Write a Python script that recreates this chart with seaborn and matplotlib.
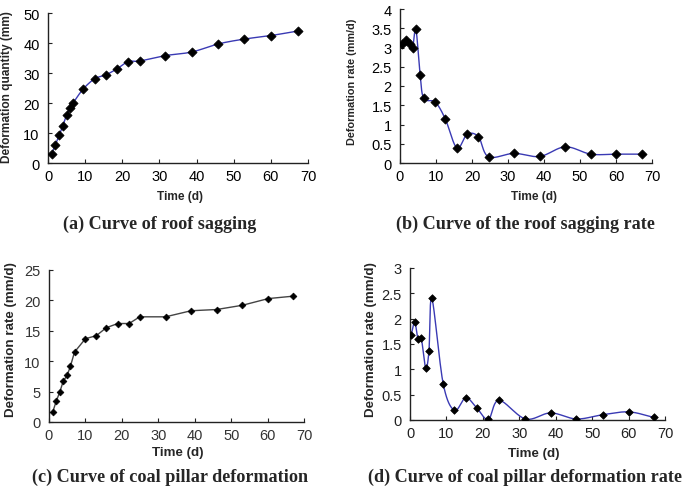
import numpy as np
import pandas as pd
import matplotlib
matplotlib.use("Agg")
import matplotlib.pyplot as plt
import seaborn as sns

sns.set_theme(style="ticks")
plt.rcParams['font.family'] = ['Liberation Sans', 'DejaVu Sans']

# ---- data ----
a_time = [1, 2, 3, 4, 5, 6, 6.7, 9.5, 12.6, 15.6, 18.6, 21.6, 24.7, 31.6, 38.7, 45.9, 52.8, 60.1, 67.3]
a_value = [3.0, 6.1, 9.2, 12.4, 16.0, 18.4, 19.9, 24.7, 28.1, 29.4, 31.4, 33.8, 34.0, 35.8, 37.0, 39.7, 41.3, 42.5, 44.0]

b_time = [0.5, 1.6, 2.7, 3.5, 4.4, 5.6, 6.6, 9.8, 12.6, 15.8, 18.7, 21.8, 24.6, 31.7, 38.8, 45.9, 53.0, 60.0, 67.1]
b_value = [3.09, 3.20, 3.08, 2.98, 3.48, 2.29, 1.68, 1.58, 1.14, 0.39, 0.75, 0.68, 0.16, 0.25, 0.17, 0.42, 0.23, 0.23, 0.23]

c_time = [1, 2, 3, 3.9, 5, 5.9, 7, 10, 13, 15.7, 18.9, 22, 24.9, 32, 39, 46, 53.1, 60.2, 67.1]
c_value = [1.6, 3.45, 5.0, 6.7, 7.7, 9.2, 11.5, 13.7, 14.2, 15.5, 16.2, 16.2, 17.3, 17.3, 18.3, 18.5, 19.2, 20.3, 20.7]

d_time = [0.3, 1.3, 2.2, 3.1, 4.3, 5.2, 6.0, 9.1, 12.2, 15.3, 18.3, 21.5, 24.4, 31.7, 38.6, 45.7, 52.9, 60.1, 67.0]
d_value = [1.67, 1.93, 1.60, 1.61, 1.03, 1.36, 2.40, 0.72, 0.19, 0.44, 0.24, 0.01, 0.39, 0.02, 0.14, 0.02, 0.105, 0.16, 0.05]

panel_titles = ["(a) Curve of roof sagging", "(b) Curve of the roof sagging rate",
                "(c) Curve of coal pillar deformation", "(d) Curve of coal pillar deformation rate"]
y_labels = ["Deformation quantity (mm)", "Deformation rate (mm/d)",
            "Deformation rate (mm/d)", "Deformation rate (mm/d)"]
x_label = "Time (d)"


def smooth(x, y, n=20):
    """Catmull-Rom (Excel-like) smoothing through the data points."""
    x = np.asarray(x, float)
    y = np.asarray(y, float)
    px = np.concatenate([[2 * x[0] - x[1]], x, [2 * x[-1] - x[-2]]])
    py = np.concatenate([[2 * y[0] - y[1]], y, [2 * y[-1] - y[-2]]])
    xs, ys = [], []
    t = np.linspace(0, 1, n, endpoint=False)
    for i in range(1, len(px) - 2):
        for P, out in ((px, xs), (py, ys)):
            p0, p1, p2, p3 = P[i - 1], P[i], P[i + 1], P[i + 2]
            out.extend(0.5 * ((2 * p1) + (-p0 + p2) * t + (2 * p0 - 5 * p1 + 4 * p2 - p3) * t ** 2
                              + (-p0 + 3 * p1 - 3 * p2 + p3) * t ** 3))
    xs.append(x[-1]); ys.append(y[-1])
    return np.array(xs), np.array(ys)


W, H = 685, 489
fig = plt.figure(figsize=(W / 100, H / 100), dpi=100)


def add_ax(l, r, t, b):
    return fig.add_axes([l / W, (H - b) / H, (r - l) / W, (b - t) / H])


BLUE = '#3a3ab4'
specs = [
    (a_time, a_value, (48, 308, 14, 164), 50, [0, 10, 20, 30, 40, 50], True, BLUE, 22, 'black'),
    (b_time, b_value, (400, 652, 10, 164), 4, [0, 0.5, 1, 1.5, 2, 2.5, 3, 3.5, 4], True, BLUE, 22, 'black'),
    (c_time, c_value, (49, 304, 271, 423), 25, [0, 5, 10, 15, 20, 25], False, '#444444', 12, '#333333'),
    (d_time, d_value, (410, 665, 269, 421), 3, [0, 0.5, 1, 1.5, 2, 2.5, 3], True, BLUE, 15, '#222222'),
]

for i, (xt, yv, rect, ymax, yticks, sm, lc, ms, tc) in enumerate(specs):
    ax = add_ax(*rect)
    df = pd.DataFrame({'t': xt, 'v': yv})
    if sm:
        sx, sy = smooth(xt, yv)
        sdf = pd.DataFrame({'t': sx, 'v': sy})
        sns.lineplot(data=sdf, x='t', y='v', ax=ax, color=lc, lw=1.0, sort=False, estimator=None)
    else:
        sns.lineplot(data=df, x='t', y='v', ax=ax, color=lc, lw=1.0, sort=False, estimator=None)
    sns.scatterplot(data=df, x='t', y='v', ax=ax, marker='D', s=ms, color='black',
                    edgecolor='black', linewidth=0.5, zorder=5)
    ax.set_xlim(0, 70)
    ax.set_ylim(0, ymax)
    ax.set_xticks([0, 10, 20, 30, 40, 50, 60, 70])
    ax.set_yticks(yticks)
    ax.set_yticklabels([('%g' % v) for v in yticks])
    ax.set_xlabel('')
    ax.set_ylabel('')
    sns.despine(ax=ax)
    for s in ('left', 'bottom'):
        ax.spines[s].set_color('#222222')
        ax.spines[s].set_linewidth(1.0)
    ax.tick_params(direction='in', length=3, width=0.8, labelsize=10.5, colors='#222222',
                   labelcolor=tc, pad=4)
    ax.tick_params(axis='y', pad=6)
    ax.set_facecolor('white')


def ftxt(x, y, s, **kw):
    fig.text(x / W, 1 - y / H, s, ha='center', va='center', **kw)


xl_pos = [(180, 197), (534, 197), (178, 453), (534, 454)]
yl_pos = [(7, 87, 8.6), (352, 82, 7.8), (11, 340, 9.6), (371, 340, 9.6)]
xl_size = [8.6, 8.6, 9.6, 9.6]
ti_pos = [(160, 224), (525, 224), (170, 477), (525, 477)]

for i in range(4):
    ftxt(*xl_pos[i], x_label, fontsize=xl_size[i], fontweight='bold')
    ftxt(yl_pos[i][0], yl_pos[i][1], y_labels[i], fontsize=yl_pos[i][2], fontweight='bold', rotation=90)
    ftxt(*ti_pos[i], panel_titles[i], fontsize=13.1, fontweight='bold', family=['Liberation Serif'])

fig.savefig('out.png', dpi=100, facecolor='white')
